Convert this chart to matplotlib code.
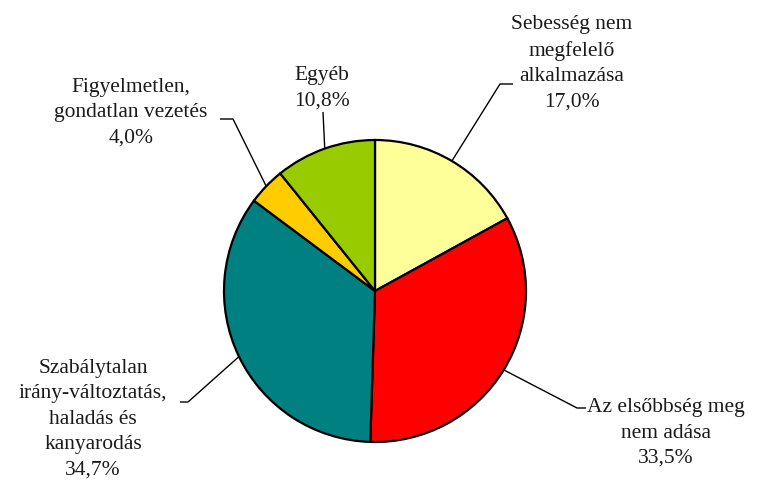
import numpy as np
import matplotlib
matplotlib.use("Agg")
import matplotlib.pyplot as plt

labels = ["Sebesség nem\nmegfelelő\nalkalmazása",
          "Az elsőbbség meg\nnem adása",
          "Szabálytalan\nirány-változtatás,\nhaladás és\nkanyarodás",
          "Figyelmetlen,\ngondatlan vezetés",
          "Egyéb"]
values = [17.0, 33.5, 34.7, 4.0, 10.8]
colors = ["#FFFF99", "#FF0000", "#008080", "#FFCC00", "#99CC00"]

# layout (pixel coords, y measured from bottom)
W, H = 757, 484
center = (375, 193)
radius = 151
text_pos = [(572, 484 - 63), (666, 484 - 433), (93, 484 - 419), (131, 484 - 113), (322, 484 - 88)]
elbows = [(500, 400), (577, 76), (188, 82), (233, 365), (323, 372)]
ends = [(513, 400), (586, 76), (180, 82), (220, 365), (323, 372)]

fig = plt.figure(figsize=(W / 100, H / 100), dpi=100)
ax = fig.add_axes([0, 0, 1, 1])

wedges, _ = ax.pie(values, colors=colors, startangle=90, counterclock=False,
                   center=center, radius=radius,
                   wedgeprops=dict(edgecolor="black", linewidth=1.6))
ax.set_xlim(0, W)
ax.set_ylim(0, H)
ax.set_aspect("equal")
ax.axis("off")

font = dict(family="Liberation Serif", fontsize=15.5, color="#1a1a1a")
for w, lab, v, tp, el, en in zip(wedges, labels, values, text_pos, elbows, ends):
    mid = np.deg2rad((w.theta1 + w.theta2) / 2)
    sx = center[0] + radius * np.cos(mid)
    sy = center[1] + radius * np.sin(mid)
    ax.plot([sx, el[0], en[0]], [sy, el[1], en[1]], color="black", lw=1.0,
            solid_capstyle="butt")
    txt = f"{lab}\n{v:.1f}%".replace(".", ",")
    ax.text(tp[0], tp[1], txt, ha="center", va="center", multialignment="center",
            linespacing=1.45, **font)

fig.savefig("out.png", dpi=100)
